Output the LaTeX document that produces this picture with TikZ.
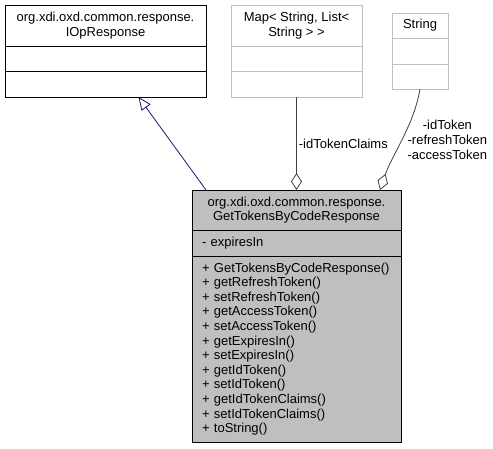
\documentclass[tikz,border=0pt]{standalone}
\usepackage{fontspec}
\setmainfont{Liberation Sans}
\usetikzlibrary{positioning,arrows.meta}

\definecolor{edgegray}{HTML}{404040}
\definecolor{boxgray}{HTML}{BFBFBF}
\definecolor{navyline}{HTML}{191970}

\tikzset{
  cls/.style={draw, rectangle, inner sep=0pt, outer sep=0pt, align=center,
    font=\fontsize{13}{14.6}\selectfont},
  extcls/.style={cls, draw=boxgray},
  maincls/.style={cls, fill=boxgray, draw=black},
  aggr/.style={draw=edgegray, -{Diamond[open, length=17pt, width=11pt]}},
  inherit/.style={draw=navyline, -{Triangle[open, length=13pt, width=11pt]}},
  lbl/.style={font=\fontsize{13}{14.6}\selectfont, align=center, inner sep=2pt}
}

\begin{document}
\begin{tikzpicture}[x=1pt, y=-1pt, line width=0.8pt]
            \useasboundingbox (0,0) rectangle (493,448);

            % Base class
            \node[cls, minimum width=201pt, minimum height=41pt, anchor=north west] (iopT) at (5,5)
                {org.xdi.oxd.common.response.\\IOpResponse};
            \node[cls, minimum width=201pt, minimum height=25pt, below=0pt of iopT] (iopA) {};
            \node[cls, minimum width=201pt, minimum height=26pt, below=0pt of iopA] (iopM) {};

            % Map type
            \node[extcls, minimum width=131pt, minimum height=41pt, anchor=north west] (mapT) at (231,5)
                {Map< String, List<\\String > >};
            \node[extcls, minimum width=131pt, minimum height=25pt, below=0pt of mapT] (mapA) {};
            \node[extcls, minimum width=131pt, minimum height=26pt, below=0pt of mapA] (mapM) {};

            % String type
            \node[extcls, minimum width=56pt, minimum height=25pt, anchor=north west] (strT) at (392,13)
                {String};
            \node[extcls, minimum width=56pt, minimum height=26pt, below=0pt of strT] (strA) {};
            \node[extcls, minimum width=56pt, minimum height=25pt, below=0pt of strA] (strM) {};

            % Main class
            \node[maincls, minimum width=209pt, minimum height=40pt, anchor=north west] (gtT) at (192,190)
                {org.xdi.oxd.common.response.\\GetTokensByCodeResponse};
            \node[maincls, minimum width=209pt, minimum height=26pt, below=0pt of gtT,
                align=left, text width=189pt, inner xsep=10pt] (gtA) {- expiresIn};
            \node[maincls, minimum width=209pt, minimum height=186pt, below=0pt of gtA,
                align=left, text width=189pt, inner xsep=10pt] (gtM)
                {+ GetTokensByCodeResponse()\\+ getRefreshToken()\\+ setRefreshToken()\\
                 + getAccessToken()\\+ setAccessToken()\\+ getExpiresIn()\\+ setExpiresIn()\\
                 + getIdToken()\\+ setIdToken()\\+ getIdTokenClaims()\\+ setIdTokenClaims()\\
                 + toString()};

            % Connectors
            \draw[inherit] ([xshift=14pt]gtT.north west) -- ([xshift=33pt]iopM.south);
            \draw[aggr] (mapM.south) -- node[lbl, anchor=west] {-idTokenClaims} (mapM.south |- gtT.north);
            \draw[aggr] (strM.south) .. controls +(-6,36) and +(12,-35) .. ([xshift=188pt]gtT.north west)
                node[lbl, pos=0.5, anchor=west, xshift=3pt] {-idToken\\-refreshToken\\-accessToken};
\end{tikzpicture}
\end{document}
